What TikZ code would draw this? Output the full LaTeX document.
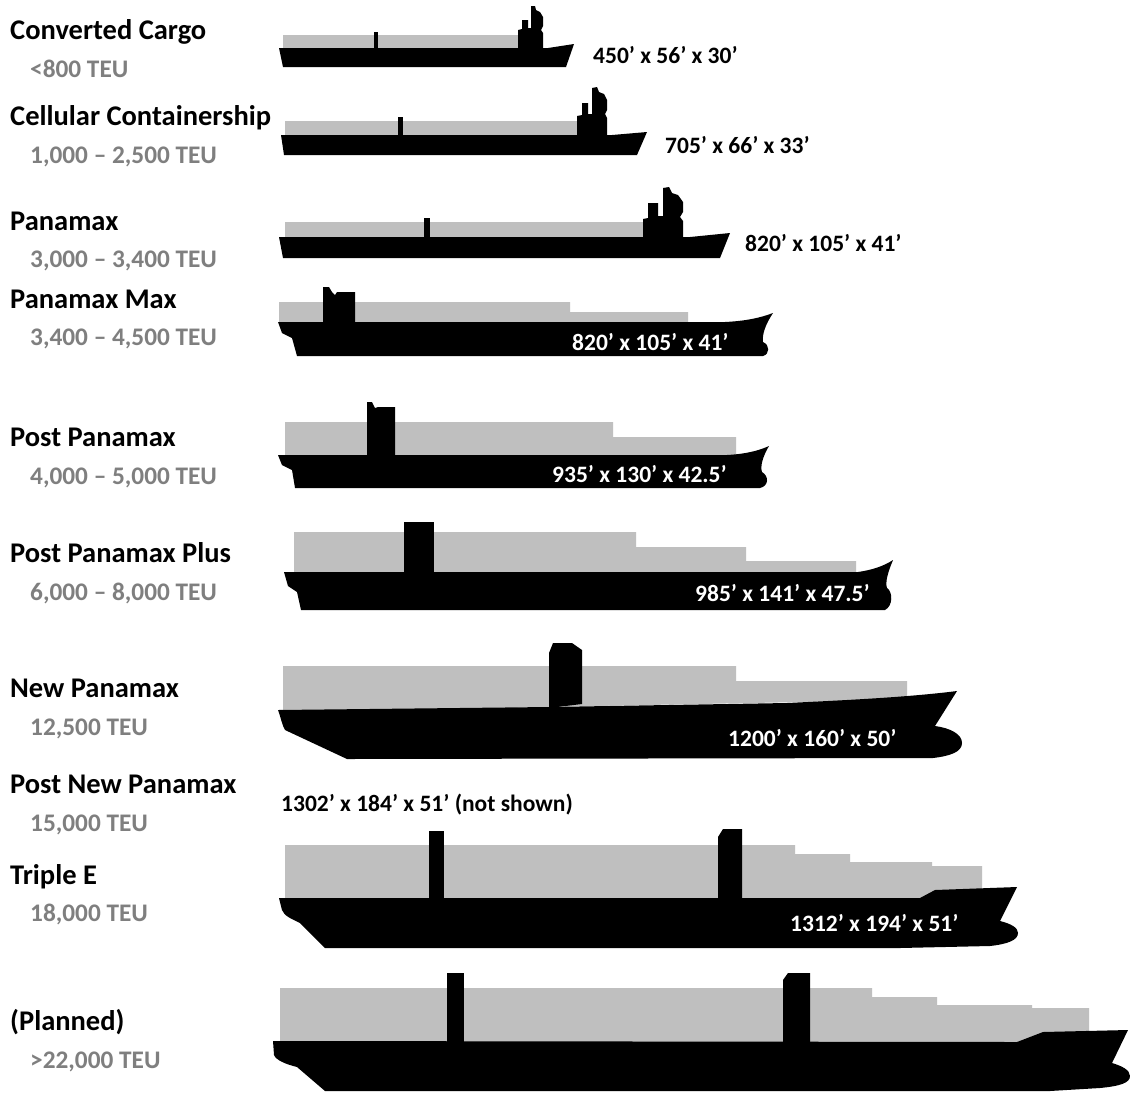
\documentclass[tikz,border=0pt]{standalone}
\usepackage{fontspec}
\setmainfont{Carlito}
\usepackage{tikz}
\definecolor{deckgray}{RGB}{191,191,191}
\definecolor{teugray}{RGB}{127,127,127}
\newcommand\namefont{\fontsize{28.5}{30}\selectfont\bfseries}
\newcommand\teufont{\fontsize{25.3}{27}\selectfont\bfseries}
\newcommand\dimfont{\fontsize{23.5}{25}\selectfont\bfseries}
\begin{document}
\begin{tikzpicture}[x=1pt,y=-1pt,
	cargo/.style={fill=deckgray},
	hull/.style={fill=black},
	shipname/.style={anchor=base west,inner sep=0pt,font=\namefont},
	teu/.style={anchor=base west,inner sep=0pt,text=teugray,font=\teufont},
	dims/.style={anchor=base west,inner sep=0pt,font=\dimfont},
	dimsin/.style={dims,text=white}]
			\useasboundingbox[fill=white] (0,0) rectangle (1130,1096);
			
			\fill[cargo] (283,35) rectangle (518,48);
			\fill[hull] (279,48) -- (548,48) -- (574,44) -- (566,67) -- (283,67) -- cycle;
			\fill[hull] (374,32) rectangle (378,48);
			\fill[hull] (518,48) -- (518,30) -- (522,29) -- (522,20) -- (528,20) -- (528,28) -- (531,28) -- (531,6) -- (535,6) -- (536,10) -- (540,12) -- (543,17) -- (543,26) -- (541,30) -- (543,33) -- (543,48) -- cycle;
			
			\fill[cargo] (285,121) rectangle (577,135);
			\fill[hull] (281,135) -- (612,135) -- (647,132) -- (637,155) -- (284,155) -- cycle;
			\fill[hull] (398,117) rectangle (403,135);
			\fill[hull] (577,135) -- (577,116) -- (582,115) -- (582,103) -- (588,103) -- (588,114) -- (592,114) -- (592,88) -- (597,87) -- (599,92) -- (604,94) -- (607,100) -- (607,110) -- (605,114) -- (607,118) -- (607,135) -- cycle;
			
			\fill[cargo] (285,222) rectangle (643,237);
			\fill[hull] (279,237) -- (690,237) -- (730,233) -- (720,258) -- (283,258) -- cycle;
			\fill[hull] (424,218) rectangle (430,237);
			\fill[hull] (643,237) -- (643,219) -- (648,218) -- (648,203) -- (658,203) -- (658,216) -- (663,216) -- (663,188) -- (669,187) -- (672,193) -- (678,195) -- (683,202) -- (683,212) -- (680,217) -- (683,221) -- (683,237) -- cycle;
			
			\fill[cargo] (279,302) -- (570,302) -- (570,312) -- (688,312) -- (688,323) -- (279,323) -- cycle;
			\fill[hull] (278,322) -- (725,322) .. controls (745,321) and (760,318) .. (773,313) .. controls (765,325) and (762,335) .. (763,342) .. controls (770,345) and (770,354) .. (763,356) -- (297,356) -- (292,338) -- (282,333) -- cycle;
			\fill[hull] (323,323) -- (323,287) -- (329,287) -- (332,292) -- (335,295) -- (337,292) -- (355,292) -- (355,323) -- cycle;
			
			\fill[cargo] (285,422) -- (613,422) -- (613,437) -- (736,437) -- (736,456) -- (285,456) -- cycle;
			\fill[hull] (278,455) -- (727,455) .. controls (745,454) and (758,451) .. (769,446) .. controls (763,456) and (760,466) .. (762,472) .. controls (769,476) and (769,486) .. (760,488) -- (295,488) -- (292,470) -- (282,465) -- cycle;
			\fill[hull] (367,456) -- (367,402) -- (372,402) -- (375,408) -- (378,407) -- (395,407) -- (395,456) -- cycle;
			
			\fill[cargo] (294,532) -- (636,532) -- (636,547) -- (746,547) -- (746,561) -- (856,561) -- (856,573) -- (294,573) -- cycle;
			\fill[hull] (284,572) -- (858,572) .. controls (872,570) and (884,566) .. (893,560) .. controls (888,572) and (885,582) .. (887,588) .. controls (893,592) and (893,606) .. (885,610) -- (301,610) -- (297,592) -- (288,586) -- cycle;
			\fill[hull] (404,522) rectangle (434,573);
			
			\fill[cargo] (283,666) -- (736,666) -- (736,681) -- (907,681) -- (907,700) -- (283,712) -- cycle;
			\fill[hull] (278,710) -- (549,707) -- (787,703) .. controls (850,700) and (910,697) .. (957,691) -- (935,726) .. controls (950,728) and (962,734) .. (962,743) .. controls (962,752) and (950,756) .. (933,758) -- (347,759) -- (285,730) .. controls (282,725) and (281,718) .. (278,710) -- cycle;
			\fill[hull] (549,708) -- (549,653) -- (553,643) -- (572,643) -- (582,650) -- (582,704) -- cycle;
			
			\fill[cargo] (285,845) -- (795,845) -- (795,854) -- (850,854) -- (850,862) -- (932,862) -- (932,866) -- (982,866) -- (982,899) -- (285,899) -- cycle;
			\fill[hull] (279,898) -- (920,898) -- (935,890) -- (1017,887) -- (1000,921) .. controls (1012,924) and (1018,928) .. (1018,933) .. controls (1018,940) and (1008,944) .. (990,946) -- (900,948) -- (325,948) -- (300,923) .. controls (292,919) and (284,916) .. (282,910) -- cycle;
			\fill[hull] (429,831) rectangle (444,899);
			\fill[hull] (718,899) -- (718,837) -- (723,829) -- (742,829) -- (742,899) -- cycle;
			
			\fill[cargo] (280,988) -- (872,988) -- (872,997) -- (937,997) -- (937,1005) -- (1032,1005) -- (1032,1008) -- (1089,1008) -- (1089,1043) -- (280,1043) -- cycle;
			\fill[hull] (273,1041) -- (1017,1042) -- (1043,1032) -- (1128,1030) -- (1112,1063) .. controls (1122,1066) and (1130,1070) .. (1130,1076) .. controls (1130,1083) and (1120,1086) .. (1100,1088) -- (1050,1091) -- (325,1091) -- (297,1067) .. controls (285,1064) and (276,1060) .. (274,1055) -- cycle;
			\fill[hull] (447,973) rectangle (464,1042);
			\fill[hull] (783,1042) -- (783,980) -- (788,973) -- (810,973) -- (810,1042) -- cycle;
			
			\node[shipname] (cc) at (10,39) {Converted Cargo};
			\node[teu] (ccteu) at (30,77) {<800 TEU};
			\node[shipname] (cel) at (10,125) {Cellular Containership};
			\node[teu] (celteu) at (30,163) {1,000 -- 2,500 TEU};
			\node[shipname] (pmx) at (10,230) {Panamax};
			\node[teu] (pmxteu) at (30,267) {3,000 -- 3,400 TEU};
			\node[shipname] (pmm) at (10,308) {Panamax Max};
			\node[teu] (pmmteu) at (30,345) {3,400 -- 4,500 TEU};
			\node[shipname] (ppx) at (10,446) {Post Panamax};
			\node[teu] (ppxteu) at (30,484) {4,000 -- 5,000 TEU};
			\node[shipname] (ppp) at (10,562) {Post Panamax Plus};
			\node[teu] (pppteu) at (30,600) {6,000 -- 8,000 TEU};
			\node[shipname] (npx) at (10,697) {New Panamax};
			\node[teu] (npxteu) at (30,735) {12,500 TEU};
			\node[shipname] (pnp) at (10,793) {Post New Panamax};
			\node[teu] (pnpteu) at (30,831) {15,000 TEU};
			\node[shipname] (tee) at (10,884) {Triple E};
			\node[teu] (teeteu) at (30,921) {18,000 TEU};
			\node[shipname] (pln) at (10,1030) {(Planned)};
			\node[teu] (plnteu) at (30,1068) {>22,000 TEU};
			
			\node[dims] (ccdim) at (593,63) {450’ x 56’ x 30’};
			\node[dims] (celdim) at (665,153) {705’ x 66’ x 33’};
			\node[dims] (pmxdim) at (745,251) {820’ x 105’ x 41’};
			\node[dimsin] (pmmdim) at (572,350) {820’ x 105’ x 41’};
			\node[dimsin] (ppxdim) at (552,482) {935’ x 130’ x 42.5’};
			\node[dimsin] (pppdim) at (695,601) {985’ x 141’ x 47.5’};
			\node[dimsin] (npxdim) at (728,746) {1200’ x 160’ x 50’};
			\node[dims] (pnpdim) at (281,811) {1302’ x 184’ x 51’ (not shown)};
			\node[dimsin] (teedim) at (790,931) {1312’ x 194’ x 51’};
\end{tikzpicture}
\end{document}
